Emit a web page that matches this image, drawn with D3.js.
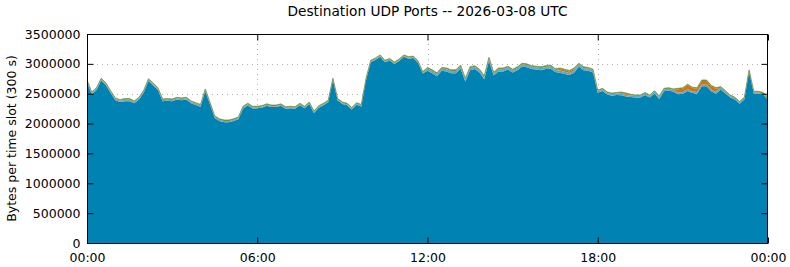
<!DOCTYPE html>
<html>
<head>
<meta charset="utf-8">
<script src="https://cdn.jsdelivr.net/npm/d3@7"></script>
<style>
  body { margin: 0; background: #fff; }
  svg { display: block; font-family: "DejaVu Sans", sans-serif; }
</style>
</head>
<body>
<div id="chart"></div>
<script>
// 10 minute samples, 00:00 .. 24:00 (145 points)
const udpMain = [
  2692000, 2492000, 2562000, 2722000, 2642000, 2512000, 2392000, 2362000, 2375000, 2375000,
  2342000, 2402000, 2522000, 2712000, 2637000, 2562000, 2372000, 2382000, 2372000, 2402000,
  2392000, 2402000, 2342000, 2312000, 2282000, 2542000, 2322000, 2092000, 2042000, 2022000,
  2022000, 2042000, 2072000, 2252000, 2302000, 2252000, 2257000, 2267000, 2297000, 2277000,
  2277000, 2297000, 2247000, 2257000, 2247000, 2307000, 2257000, 2327000, 2177000, 2267000,
  2307000, 2357000, 2727000, 2387000, 2327000, 2307000, 2237000, 2317000, 2287000, 2727000,
  3027000, 3067000, 3117000, 3027000, 3057000, 2997000, 3047000, 3117000, 3087000, 3097000,
  3017000, 2837000, 2884000, 2844000, 2794000, 2884000, 2874000, 2844000, 2844000, 2924000,
  2704000, 2894000, 2914000, 2854000, 2744000, 3054000, 2804000, 2874000, 2874000, 2904000,
  2854000, 2894000, 2954000, 2944000, 2914000, 2904000, 2894000, 2914000, 2924000, 2864000,
  2852000, 2832000, 2812000, 2852000, 2954000, 2894000, 2884000, 2854000, 2517000, 2547000,
  2487000, 2467000, 2477000, 2475000, 2455000, 2447000, 2437000, 2437000, 2477000, 2437000,
  2502000, 2412000, 2542000, 2552000, 2532000, 2490000, 2500000, 2545000, 2510000, 2500000,
  2625000, 2625000, 2540000, 2500000, 2572000, 2502000, 2442000, 2402000, 2332000, 2402000,
  2862000, 2502000, 2502000, 2482000, 2402000
];
const udpSecond = [
  20000, 20000, 20000, 20000, 20000, 20000, 20000, 20000, 20000, 20000,
  20000, 20000, 20000, 20000, 20000, 20000, 20000, 20000, 20000, 20000,
  20000, 20000, 20000, 20000, 20000, 20000, 20000, 20000, 20000, 20000,
  20000, 20000, 20000, 20000, 20000, 20000, 15000, 15000, 15000, 15000,
  15000, 15000, 15000, 15000, 15000, 15000, 15000, 15000, 15000, 15000,
  15000, 15000, 15000, 15000, 15000, 15000, 15000, 15000, 15000, 15000,
  15000, 15000, 15000, 15000, 15000, 15000, 15000, 15000, 15000, 15000,
  15000, 15000, 35000, 35000, 35000, 35000, 35000, 35000, 35000, 35000,
  35000, 35000, 35000, 35000, 35000, 35000, 35000, 35000, 35000, 35000,
  35000, 35000, 35000, 35000, 35000, 35000, 35000, 35000, 35000, 35000,
  35000, 35000, 35000, 35000, 35000, 35000, 35000, 35000, 25000, 25000,
  25000, 25000, 25000, 25000, 25000, 25000, 25000, 25000, 25000, 25000,
  30000, 30000, 30000, 30000, 30000, 30000, 30000, 30000, 30000, 30000,
  30000, 30000, 30000, 30000, 30000, 30000, 20000, 20000, 20000, 20000,
  20000, 20000, 20000, 20000, 20000
];
const udpThird = [
  3000, 3000, 3000, 3000, 3000, 3000, 3000, 3000, 10000, 10000,
  3000, 3000, 3000, 3000, 8000, 3000, 3000, 3000, 3000, 3000,
  3000, 3000, 3000, 3000, 3000, 3000, 3000, 3000, 3000, 3000,
  3000, 3000, 3000, 3000, 3000, 3000, 3000, 3000, 3000, 3000,
  3000, 3000, 3000, 3000, 3000, 3000, 3000, 3000, 3000, 3000,
  3000, 3000, 3000, 3000, 3000, 3000, 3000, 3000, 3000, 3000,
  3000, 3000, 3000, 3000, 3000, 3000, 3000, 3000, 3000, 3000,
  3000, 3000, 3000, 3000, 3000, 3000, 3000, 3000, 3000, 3000,
  3000, 3000, 3000, 3000, 3000, 3000, 3000, 3000, 3000, 3000,
  3000, 3000, 3000, 3000, 3000, 3000, 3000, 3000, 3000, 3000,
  25000, 25000, 25000, 25000, 3000, 3000, 3000, 3000, 3000, 3000,
  3000, 3000, 3000, 15000, 15000, 3000, 3000, 3000, 3000, 3000,
  3000, 3000, 3000, 3000, 3000, 55000, 55000, 70000, 55000, 55000,
  60000, 60000, 55000, 55000, 3000, 3000, 3000, 3000, 3000, 3000,
  3000, 3000, 3000, 3000, 3000
];
const udpFourth = [
  15000, 15000, 15000, 15000, 15000, 15000, 15000, 15000, 15000, 15000,
  15000, 15000, 15000, 15000, 15000, 15000, 15000, 15000, 15000, 15000,
  15000, 15000, 15000, 15000, 15000, 15000, 15000, 15000, 15000, 15000,
  15000, 15000, 15000, 15000, 15000, 15000, 15000, 15000, 15000, 15000,
  15000, 15000, 15000, 15000, 15000, 15000, 15000, 15000, 15000, 15000,
  15000, 15000, 15000, 15000, 15000, 15000, 15000, 15000, 15000, 15000,
  15000, 15000, 15000, 15000, 15000, 15000, 15000, 15000, 15000, 15000,
  15000, 15000, 18000, 18000, 18000, 18000, 18000, 18000, 18000, 18000,
  18000, 18000, 18000, 18000, 18000, 18000, 18000, 18000, 18000, 18000,
  18000, 18000, 18000, 18000, 18000, 18000, 18000, 18000, 18000, 18000,
  18000, 18000, 18000, 18000, 18000, 18000, 18000, 18000, 15000, 15000,
  15000, 15000, 15000, 15000, 15000, 15000, 15000, 15000, 15000, 15000,
  15000, 15000, 15000, 15000, 15000, 15000, 15000, 15000, 15000, 15000,
  15000, 15000, 15000, 15000, 15000, 15000, 15000, 15000, 15000, 15000,
  15000, 15000, 15000, 15000, 15000
];

const seriesNames = ['main', 'second', 'third', 'fourth'];
const seriesColors = ['#0083b3', '#5fa8c8', '#d9720b', '#6f8f30'];
const yTicks = [0, 500000, 1000000, 1500000, 2000000, 2500000, 3000000, 3500000];
const xTickHours = [0, 6, 12, 18, 24];
const titleText = 'Destination UDP Ports -- 2026-03-08 UTC';
const yLabel = 'Bytes per time slot (300 s)';

const width = 790, height = 267;
const margin = { top: 34, right: 22, bottom: 24, left: 87 };
const innerW = width - margin.left - margin.right;
const innerH = height - margin.top - margin.bottom;

const day = new Date(Date.UTC(2026, 2, 8));
const rows = udpMain.map((v, i) => ({
  t: new Date(day.getTime() + i * 600000),
  main: v,
  second: udpSecond[i],
  third: udpThird[i],
  fourth: udpFourth[i]
}));

const x = d3.scaleUtc()
  .domain([day, new Date(day.getTime() + 24 * 3600000)])
  .range([0, innerW]);
const y = d3.scaleLinear().domain([0, 3500000]).range([innerH, 0]);

const stacked = d3.stack().keys(seriesNames)(rows);

const svg = d3.select('#chart').append('svg')
  .attr('width', width)
  .attr('height', height);

svg.append('text')
  .attr('x', margin.left + innerW / 2)
  .attr('y', 16)
  .attr('text-anchor', 'middle')
  .attr('font-size', 13.7)
  .text(titleText);

const g = svg.append('g').attr('transform', `translate(${margin.left},${margin.top})`);

// grid
const xTicks = xTickHours.map(h => new Date(day.getTime() + h * 3600000));
g.append('g').selectAll('line').data(yTicks.slice(1, -1)).join('line')
  .attr('x1', 0).attr('x2', innerW)
  .attr('y1', d => Math.round(y(d)) + 0.5).attr('y2', d => Math.round(y(d)) + 0.5)
  .attr('stroke', '#b0b0b0').attr('stroke-dasharray', '1,4');
g.append('g').selectAll('line').data(xTicks.slice(1, -1)).join('line')
  .attr('x1', d => Math.round(x(d)) + 0.5).attr('x2', d => Math.round(x(d)) + 0.5)
  .attr('y1', 0).attr('y2', innerH)
  .attr('stroke', '#b0b0b0').attr('stroke-dasharray', '1,4');

// stacked areas
const area = d3.area()
  .x(d => x(d.data.t))
  .y0(d => y(d[0]))
  .y1(d => y(d[1]));

g.append('g').selectAll('path').data(stacked).join('path')
  .attr('fill', (d, i) => seriesColors[i])
  .attr('d', area);

// top edge
const topLine = d3.line().x(d => x(d.data.t)).y(d => y(d[1]));
g.append('path')
  .datum(stacked[stacked.length - 1])
  .attr('fill', 'none')
  .attr('stroke', '#7d8f4a')
  .attr('stroke-width', 0.8)
  .attr('d', topLine);

// frame
g.append('rect')
  .attr('x', 0.5).attr('y', 0.5)
  .attr('width', innerW - 1).attr('height', innerH)
  .attr('fill', 'none').attr('stroke', '#000');

// inward ticks (mirrored)
const tickLen = 6;
const yAxisL = d3.axisLeft(y).tickValues(yTicks).tickSize(-tickLen).tickPadding(7)
  .tickFormat(d3.format('d'));
const yAxisR = d3.axisRight(y).tickValues(yTicks).tickSize(-tickLen).tickFormat('');
const xAxisB = d3.axisBottom(x).tickValues(xTicks).tickSize(-tickLen).tickPadding(10)
  .tickFormat(d3.utcFormat('%H:%M'));
const xAxisT = d3.axisTop(x).tickValues(xTicks).tickSize(-tickLen).tickFormat('');

[
  [yAxisL, 'translate(0.5,0)'],
  [yAxisR, `translate(${innerW - 0.5},0)`],
  [xAxisB, `translate(0,${innerH + 0.5})`],
  [xAxisT, 'translate(0,0.5)']
].forEach(([ax, tr]) => {
  const a = g.append('g').attr('transform', tr).call(ax);
  a.select('.domain').remove();
  a.selectAll('line').attr('stroke', '#000');
  a.selectAll('text').attr('font-size', 12.5).attr('fill', '#000')
    .attr('font-family', '"DejaVu Sans", sans-serif');
});

svg.append('text')
  .attr('transform', `translate(16,${margin.top + innerH / 2}) rotate(-90)`)
  .attr('text-anchor', 'middle')
  .attr('font-size', 12.5)
  .text(yLabel);
</script>
</body>
</html>
